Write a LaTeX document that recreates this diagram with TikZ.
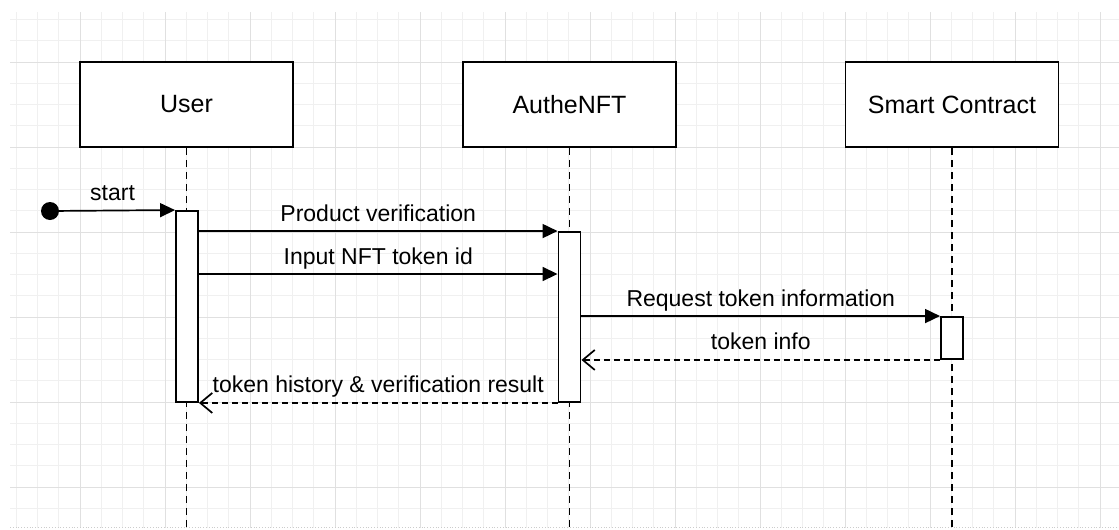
\documentclass[tikz,border=0pt]{standalone}
\usepackage{fontspec}
\setmainfont{Liberation Sans}
\usetikzlibrary{arrows.meta,calc}
\begin{document}
\begin{tikzpicture}[x=1pt,y=-1pt,
  actor/.style={draw, line width=1.9pt, minimum width=213pt, minimum height=85pt, inner sep=0pt, fill=white, font=\fontsize{25}{30}\selectfont},
  act/.style={draw, line width=1.9pt, fill=white, minimum width=22pt, inner sep=0pt},
  life/.style={line width=1.7pt, dash pattern=on 7pt off 5pt},
  msg/.style={line width=1.7pt, -{Triangle[length=15pt,width=14pt]}},
  ret/.style={line width=1.7pt, dash pattern=on 6pt off 4pt, -{Straight Barb[length=12pt,width=20pt,line width=1.7pt]}},
  lbl/.style={anchor=base, yshift=10pt, inner sep=0pt, font=\fontsize{23}{28}\selectfont},
  minorgrid/.style={black!6, line width=0.8pt},
  majorgrid/.style={black!12, line width=0.9pt}]
\useasboundingbox (0,0) rectangle (1119,530);
% grid
\begin{scope}
\clip (10,12) rectangle (1119,527);
\foreach \i in {1,...,53} \draw[minorgrid] ({-5+21.25*\i},0) -- ({-5+21.25*\i},530);
\foreach \j in {2,...,25} \draw[minorgrid] (0,{-23+21.25*\j}) -- (1119,{-23+21.25*\j});
\foreach \i in {1,...,13} \draw[majorgrid] ({-5+85*\i},0) -- ({-5+85*\i},530);
\foreach \j in {1,...,6} \draw[majorgrid] (0,{-23+85*\j}) -- (1119,{-23+85*\j});
\end{scope}
\draw[black!20, dotted, line width=0.8pt] (10,527) -- (1119,527);
% actors
\node[actor] (u) at (186.5,104.5) {User};
\node[actor] (a) at (569.5,104.5) {AutheNFT};
\node[actor] (s) at (952,104.5) {Smart Contract};
\coordinate (bottom) at (0,530);
% lifelines
\draw[life] (u.south) -- (u.south |- bottom);
\draw[life] (a.south) -- (a.south |- bottom);
\draw[life] (s.south) -- (s.south |- bottom);
% activations
\node[act, minimum height=191pt] (ua) at (187,306.5) {};
\node[act, minimum height=170pt] (aa) at (569.5,317) {};
\node[act, minimum height=42pt] (sa) at (952,338) {};
% start
\node[circle, fill=black, minimum size=18pt, inner sep=0pt] (dot) at (50,211) {};
\draw[msg] (dot.center) -- (ua.north west) node[midway, lbl] {start};
% messages
\coordinate (y2) at (0,274);
\draw[msg] (ua.east |- aa.north) -- (aa.north west) node[midway, lbl] {Product verification};
\draw[msg] (ua.east |- y2) -- (aa.west |- y2) node[midway, lbl] {Input NFT token id};
\draw[msg] (aa.east |- sa.north) -- (sa.north west) node[midway, lbl] {Request token information};
\draw[ret] (sa.south west) -- (aa.east |- sa.south) node[midway, lbl] {token info};
\draw[ret] (aa.south west) -- (ua.south east) node[midway, lbl] {token history \& verification result};
\end{tikzpicture}
\end{document}
